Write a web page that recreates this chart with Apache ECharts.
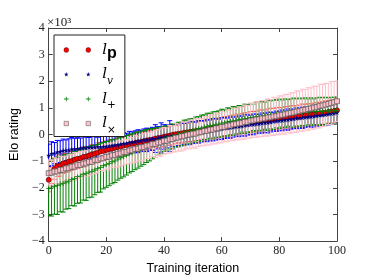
<!DOCTYPE html>
<html>
<head>
<meta charset="utf-8">
<script src="https://cdn.jsdelivr.net/npm/echarts@6/dist/echarts.min.js"></script>
<style>html,body{margin:0;padding:0;background:#fff}#c{width:374px;height:280px}</style>
</head>
<body>
<div id="c"></div>
<script>
// Training iterations (x)
const iterations = [0,1,2,3,4,5,6,7,8,9,10,11,12,13,14,15,16,17,18,19,20,21,22,23,24,25,26,27,28,29,30,31,32,33,34,35,36,37,38,39,40,41,42,43,44,45,46,47,48,49,50,51,52,53,54,55,56,57,58,59,60,61,62,63,64,65,66,67,68,69,70,71,72,73,74,75,76,77,78,79,80,81,82,83,84,85,86,87,88,89,90,91,92,93,94,95,96,97,98,99,100];

// Elo rating (x10^3) and error (x10^3) per series
const lpVals = [-1.70,-1.42,-1.28,-1.19,-1.15,-1.09,-1.06,-1.01,-0.99,-0.94,
 -0.91,-0.89,-0.84,-0.82,-0.79,-0.74,-0.72,-0.68,-0.63,-0.62,
 -0.58,-0.55,-0.53,-0.49,-0.47,-0.45,-0.41,-0.40,-0.36,-0.34,
 -0.32,-0.29,-0.28,-0.25,-0.22,-0.20,-0.19,-0.15,-0.13,-0.12,
 -0.08,-0.06,-0.04,-0.01,0.01,0.03,0.04,0.07,0.08,0.10,
 0.11,0.13,0.14,0.16,0.17,0.19,0.21,0.22,0.24,0.25,
 0.28,0.29,0.31,0.34,0.35,0.37,0.38,0.41,0.43,0.44,
 0.46,0.49,0.50,0.51,0.53,0.55,0.56,0.57,0.59,0.60,
 0.61,0.63,0.63,0.65,0.65,0.67,0.69,0.69,0.71,0.72,
 0.73,0.75,0.76,0.77,0.80,0.81,0.82,0.85,0.86,0.88,0.91];
const lpErr = [0.45,0.42,0.40,0.38,0.41,0.37,0.36,0.39,0.35,0.37,
 0.36,0.34,0.38,0.35,0.33,0.36,0.34,0.37,0.33,0.35,
 0.34,0.36,0.33,0.35,0.37,0.34,0.32,0.36,0.35,0.33,
 0.35,0.37,0.34,0.36,0.33,0.35,0.38,0.34,0.36,0.35,
 0.37,0.34,0.36,0.38,0.35,0.33,0.37,0.36,0.34,0.38,
 0.36,0.35,0.38,0.34,0.37,0.39,0.35,0.36,0.38,0.37,
 0.35,0.39,0.36,0.38,0.37,0.40,0.36,0.38,0.39,0.37,
 0.40,0.38,0.37,0.41,0.39,0.38,0.40,0.42,0.39,0.41,
 0.40,0.38,0.42,0.40,0.43,0.41,0.39,0.42,0.44,0.41,
 0.43,0.40,0.42,0.44,0.41,0.43,0.45,0.42,0.44,0.43,0.45];

const lvVals = [-0.78,-0.72,-0.70,-0.66,-0.64,-0.60,-0.59,-0.58,-0.55,-0.54,
 -0.53,-0.51,-0.50,-0.50,-0.48,-0.48,-0.47,-0.46,-0.47,-0.45,
 -0.44,-0.43,-0.41,-0.40,-0.39,-0.36,-0.34,-0.33,-0.30,-0.29,
 -0.27,-0.25,-0.24,-0.21,-0.20,-0.18,-0.16,-0.15,-0.12,-0.11,
 -0.09,-0.07,-0.06,-0.04,-0.02,0.00,0.01,0.02,0.04,0.06,
 0.07,0.08,0.10,0.12,0.13,0.14,0.16,0.18,0.19,0.20,
 0.22,0.24,0.25,0.26,0.28,0.30,0.31,0.32,0.34,0.36,
 0.37,0.38,0.40,0.41,0.43,0.44,0.45,0.47,0.49,0.50,
 0.52,0.53,0.55,0.56,0.58,0.59,0.61,0.62,0.63,0.65,
 0.66,0.67,0.69,0.71,0.72,0.73,0.75,0.77,0.78,0.80,0.83];
const lvErr = [0.42,0.45,0.40,0.44,0.41,0.43,0.39,0.42,0.44,0.40,
 0.41,0.38,0.42,0.40,0.37,0.41,0.39,0.36,0.40,0.38,
 0.37,0.40,0.36,0.39,0.41,0.37,0.40,0.38,0.42,0.39,
 0.41,0.43,0.40,0.42,0.44,0.41,0.43,0.52,0.42,0.55,
 0.46,0.43,0.58,0.42,0.44,0.41,0.43,0.40,0.42,0.44,
 0.41,0.39,0.42,0.40,0.38,0.41,0.39,0.42,0.40,0.38,
 0.41,0.39,0.37,0.40,0.38,0.36,0.39,0.37,0.40,0.38,
 0.36,0.39,0.37,0.35,0.38,0.36,0.39,0.37,0.35,0.38,
 0.36,0.39,0.37,0.40,0.38,0.36,0.39,0.37,0.40,0.38,
 0.36,0.39,0.41,0.38,0.40,0.37,0.39,0.41,0.38,0.40,0.42];

const lplusVals = [-2.02,-2.00,-1.94,-1.92,-1.86,-1.84,-1.78,-1.75,-1.69,-1.66,
 -1.58,-1.56,-1.49,-1.47,-1.41,-1.38,-1.33,-1.27,-1.24,-1.17,
 -1.12,-1.08,-1.02,-0.99,-0.92,-0.87,-0.83,-0.78,-0.72,-0.68,
 -0.62,-0.58,-0.53,-0.49,-0.43,-0.39,-0.34,-0.31,-0.26,-0.22,
 -0.17,-0.14,-0.10,-0.07,-0.03,0.00,0.04,0.06,0.10,0.12,
 0.16,0.18,0.22,0.24,0.28,0.30,0.33,0.34,0.38,0.39,
 0.43,0.44,0.47,0.49,0.51,0.53,0.56,0.58,0.59,0.61,
 0.63,0.65,0.66,0.68,0.69,0.71,0.72,0.74,0.75,0.77,
 0.78,0.79,0.80,0.81,0.81,0.82,0.83,0.83,0.84,0.85,
 0.85,0.86,0.86,0.87,0.87,0.88,0.88,0.89,0.89,0.90,0.91];
const lplusErr = [1.02,1.06,1.05,1.08,1.04,1.07,1.02,1.03,0.98,1.02,
 1.00,1.01,0.97,1.00,0.96,0.97,0.93,0.90,0.92,0.87,
 0.86,0.84,0.83,0.81,0.79,0.77,0.76,0.74,0.72,0.71,
 0.70,0.68,0.66,0.64,0.62,0.60,0.57,0.55,0.52,0.50,
 0.46,0.48,0.44,0.47,0.43,0.46,0.44,0.48,0.45,0.47,
 0.44,0.48,0.45,0.49,0.46,0.50,0.47,0.51,0.48,0.50,
 0.52,0.49,0.53,0.50,0.54,0.51,0.53,0.49,0.55,0.51,
 0.54,0.50,0.56,0.52,0.55,0.51,0.57,0.53,0.56,0.52,
 0.55,0.51,0.54,0.50,0.53,0.55,0.51,0.54,0.50,0.53,
 0.49,0.52,0.48,0.51,0.53,0.50,0.52,0.49,0.51,0.50,0.50];

const ltimesVals = [-1.45,-1.43,-1.39,-1.38,-1.33,-1.32,-1.27,-1.26,-1.21,-1.20,
 -1.15,-1.14,-1.09,-1.08,-1.03,-1.02,-0.96,-0.95,-0.90,-0.89,
 -0.84,-0.83,-0.78,-0.77,-0.72,-0.71,-0.66,-0.65,-0.60,-0.59,
 -0.54,-0.53,-0.48,-0.47,-0.42,-0.41,-0.36,-0.35,-0.30,-0.29,
 -0.24,-0.23,-0.18,-0.17,-0.12,-0.11,-0.07,-0.06,-0.02,0.00,
 0.03,0.04,0.08,0.09,0.13,0.14,0.18,0.19,0.23,0.24,
 0.28,0.29,0.33,0.34,0.38,0.39,0.42,0.43,0.47,0.48,
 0.52,0.53,0.56,0.57,0.60,0.61,0.64,0.65,0.68,0.69,
 0.72,0.74,0.76,0.79,0.81,0.83,0.86,0.88,0.91,0.93,
 0.96,0.98,1.01,1.03,1.07,1.09,1.12,1.15,1.18,1.21,1.25];
const ltimesErr = [0.50,0.48,0.52,0.47,0.51,0.49,0.46,0.50,0.48,0.52,
 0.47,0.50,0.46,0.49,0.51,0.47,0.50,0.48,0.45,0.49,
 0.47,0.50,0.46,0.48,0.51,0.47,0.49,0.46,0.50,0.48,
 0.51,0.47,0.49,0.52,0.48,0.50,0.47,0.51,0.49,0.53,
 0.50,0.48,0.52,0.49,0.53,0.51,0.55,0.52,0.50,0.54,
 0.52,0.56,0.53,0.51,0.55,0.53,0.57,0.54,0.58,0.55,
 0.59,0.56,0.60,0.57,0.61,0.58,0.62,0.60,0.64,0.61,
 0.65,0.63,0.67,0.64,0.68,0.66,0.70,0.67,0.72,0.69,
 0.73,0.71,0.75,0.72,0.76,0.74,0.78,0.75,0.79,0.76,
 0.80,0.77,0.81,0.78,0.82,0.79,0.80,0.77,0.81,0.78,0.76];

const xTicks = [0, 20, 40, 60, 80, 100];
const yTicks = [-4, -3, -2, -1, 0, 1, 2, 3, 4];

// ---------- building ----------
function pts(vals) { return iterations.map((x, i) => [x, vals[i]]); }
function errs(vals, err) { return iterations.map((x, i) => [x, vals[i], err[i]]); }

function errRender(color, width, cap) {
  return function (params, api) {
    const x = api.value(0), y = api.value(1), e = api.value(2);
    const hi = api.coord([x, y + e]);
    const lo = api.coord([x, y - e]);
    const st = { stroke: color, lineWidth: width };
    return {
      type: 'group',
      children: [
        { type: 'line', shape: { x1: hi[0], y1: hi[1], x2: lo[0], y2: lo[1] }, style: st },
        { type: 'line', shape: { x1: hi[0] - cap, y1: hi[1], x2: hi[0] + cap, y2: hi[1] }, style: st },
        { type: 'line', shape: { x1: lo[0] - cap, y1: lo[1], x2: lo[0] + cap, y2: lo[1] }, style: st }
      ]
    };
  };
}
function errSeries(name, vals, err, color, width) {
  return {
    name: name, type: 'custom', data: errs(vals, err),
    encode: { x: 0, y: 1 }, renderItem: errRender(color, width, 2.5),
    clip: true, silent: true, animation: false
  };
}

const STAR = 'path://M3,0.2L3.65,2.11L5.66,2.13L4.05,3.34L4.65,5.27L3,4.1L1.35,5.27L1.95,3.34L0.34,2.13L2.35,2.11Z';
const PLUS = 'path://M0,2.5h6v1h-6zM2.5,0h1v6h-1z';

// legend icons (two markers each, 34x6 box)
const BOX = 'M0,0M34,6';
const ICON_CIRCLE = 'path://' + BOX + 'M0.6,3a2.4,2.4 0 1,0 4.8,0a2.4,2.4 0 1,0 -4.8,0zM22.6,3a2.4,2.4 0 1,0 4.8,0a2.4,2.4 0 1,0 -4.8,0z';
const ICON_STAR = 'path://' + BOX + 'M3,0.6L3.55,2.2L5.3,2.2L3.9,3.3L4.4,5L3,4L1.6,5L2.1,3.3L0.7,2.2L2.45,2.2ZM25,0.6L25.55,2.2L27.3,2.2L25.9,3.3L26.4,5L25,4L23.6,5L24.1,3.3L22.7,2.2L24.45,2.2Z';
const ICON_PLUS = 'path://' + BOX + 'M0.7,2.6h4.6v0.8h-4.6zM2.6,0.7h0.8v4.6h-0.8zM22.7,2.6h4.6v0.8h-4.6zM24.6,0.7h0.8v4.6h-0.8z';
const ICON_SQUARE = 'path://' + BOX + 'M0.8,0.8h4.4v4.4h-4.4zM22.8,0.8h4.4v4.4h-4.4z';

const legendText = {
  'lp': '{l|l}{p|p}',
  'lv': '{l|l}{s|v}',
  'lplus': '{l|l}{o|+}',
  'ltimes': '{l|l}{o|×}'
};

const serif = 'Liberation Serif';
const axisCol = '#444';

function frameAxis(extra) {
  return Object.assign({
    axisLine: { show: true, onZero: false, lineStyle: { color: axisCol, width: 1 } },
    axisTick: { show: true, inside: true, length: 4, lineStyle: { color: axisCol } },
    splitLine: { show: false }
  }, extra);
}

const option = {
  backgroundColor: '#fff',
  animation: false,
  grid: { left: 47, right: 37, top: 28, bottom: 29, containLabel: false },
  xAxis: [
    frameAxis({
      type: 'value', position: 'bottom', min: xTicks[0], max: xTicks[xTicks.length - 1], interval: 20,
      name: 'Training iteration', nameLocation: 'middle', nameGap: 18,
      nameTextStyle: { fontFamily: 'Liberation Sans', fontSize: 12.5, color: '#000' },
      axisLabel: { fontFamily: serif, fontSize: 12, color: '#222', margin: 4 }
    }),
    frameAxis({
      type: 'value', position: 'top', min: xTicks[0], max: xTicks[xTicks.length - 1], interval: 20,
      axisLabel: { show: false }
    })
  ],
  yAxis: [
    frameAxis({
      type: 'value', position: 'left', min: yTicks[0], max: yTicks[yTicks.length - 1], interval: 1,
      name: 'Elo rating', nameLocation: 'middle', nameGap: 26, nameRotate: 90,
      nameTextStyle: { fontFamily: 'Liberation Sans', fontSize: 12.5, color: '#000' },
      axisLabel: {
        fontFamily: serif, fontSize: 12, color: '#222', margin: 4,
        formatter: v => (v < 0 ? '\u2212' + Math.abs(v) : String(v))
      }
    }),
    frameAxis({
      type: 'value', position: 'right', min: yTicks[0], max: yTicks[yTicks.length - 1], interval: 1,
      axisLabel: { show: false }
    })
  ],
  legend: {
    left: 54, top: 35, orient: 'vertical',
    data: [
      { name: 'lp', icon: ICON_CIRCLE, itemStyle: { color: '#ff0000', borderColor: '#600000', borderWidth: 0.5 } },
      { name: 'lv', icon: ICON_STAR, itemStyle: { color: '#000080', borderWidth: 0 } },
      { name: 'lplus', icon: ICON_PLUS, itemStyle: { color: '#1a8a1a', borderWidth: 0 } },
      { name: 'ltimes', icon: ICON_SQUARE, itemStyle: { color: '#ffc0cb', borderColor: '#666', borderWidth: 0.6 } }
    ],
    itemWidth: 34, itemHeight: 6, itemGap: 0.5,
    padding: [3, 8, 1, 9],
    backgroundColor: '#fff', borderColor: '#222', borderWidth: 1, borderRadius: 0,
    selectedMode: false,
    formatter: name => legendText[name],
    textStyle: {
      fontSize: 15, lineHeight: 24, color: '#000',
      rich: {
        l: { fontFamily: 'DejaVu Serif', fontStyle: 'italic', fontSize: 15, lineHeight: 24, color: '#000' },
        p: { fontFamily: 'Liberation Sans', fontWeight: 'bold', fontSize: 16, lineHeight: 22, verticalAlign: 'bottom', color: '#000' },
        s: { fontFamily: 'DejaVu Serif', fontStyle: 'italic', fontSize: 10.5, lineHeight: 16, verticalAlign: 'bottom', color: '#000' },
        o: { fontFamily: 'DejaVu Sans', fontSize: 10.5, lineHeight: 16, verticalAlign: 'bottom', color: '#000' }
      }
    }
  },
  graphic: [
    { type: 'text', left: 47, top: 16, style: { text: '×10³', font: '13px "Liberation Serif"', fill: '#222' } }
  ],
  series: [
    errSeries('lp_err', lpVals, lpErr, 'rgba(255,40,40,0.8)', 0.8),
    { name: 'lp', type: 'scatter', data: pts(lpVals), symbol: 'circle', symbolSize: 5,
      itemStyle: { color: '#ff0000', borderColor: '#3a0000', borderWidth: 0.6, opacity: 1 }, silent: true },
    errSeries('lv_err', lvVals, lvErr, '#0000ff', 1),
    { name: 'lv', type: 'scatter', data: pts(lvVals), symbol: STAR, symbolSize: 5,
      itemStyle: { color: '#000080', opacity: 1 }, silent: true },
    errSeries('lplus_err', lplusVals, lplusErr, '#008000', 1),
    { name: 'lplus', type: 'scatter', data: pts(lplusVals), symbol: PLUS, symbolSize: 5,
      itemStyle: { color: '#008000', opacity: 1 }, silent: true },
    errSeries('ltimes_err', ltimesVals, ltimesErr, '#ffc0cb', 1),
    { name: 'ltimes', type: 'scatter', data: pts(ltimesVals), symbol: 'rect', symbolSize: 5,
      itemStyle: { color: '#ffc0cb', borderColor: '#555', borderWidth: 0.7, opacity: 1 }, silent: true }
  ]
};

const chart = echarts.init(document.getElementById('c'), null, { renderer: 'canvas' });
chart.setOption(option);
</script>
</body>
</html>
